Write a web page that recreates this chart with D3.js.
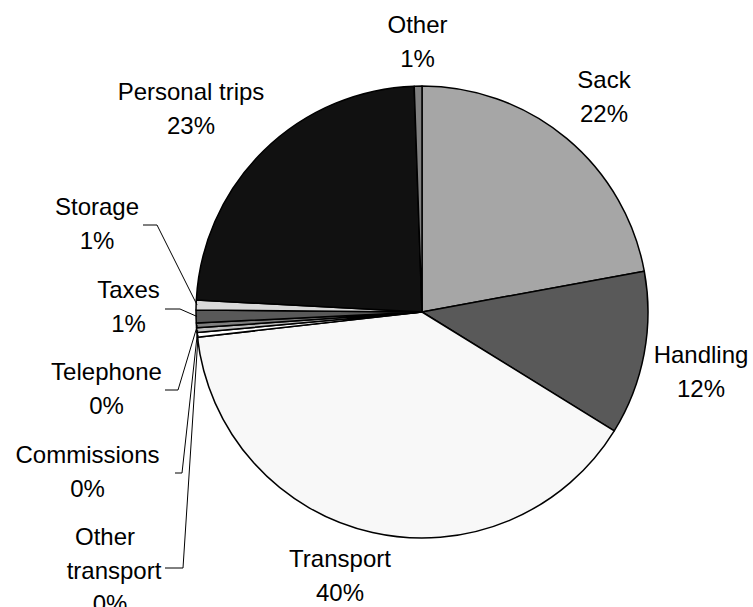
<!DOCTYPE html>
<html>
<head>
<meta charset="utf-8">
<script src="https://cdn.jsdelivr.net/npm/d3@7"></script>
<style>
  html, body { margin: 0; padding: 0; background: #ffffff; }
  svg { display: block; }
  text { font-family: "Liberation Sans", Arial, sans-serif; font-size: 24px; fill: #000; }
</style>
</head>
<body>
<svg id="chart" width="753" height="607"></svg>
<script>
// ---- data ----
const categories = ["Sack", "Handling", "Transport", "Other transport", "Commissions",
                    "Telephone", "Taxes", "Storage", "Personal trips", "Other"];
const shares = [22.1, 11.7, 39.4, 0.33, 0.33, 0.34, 0.92, 0.7, 23.6, 0.55];
const pctLabels = ["22%", "12%", "40%", "0%", "0%", "0%", "1%", "1%", "23%", "1%"];
const labelLines = [["Sack"], ["Handling"], ["Transport"], ["Other", "transport"], ["Commissions"],
                    ["Telephone"], ["Taxes"], ["Storage"], ["Personal trips"], ["Other"]];
const fills = ["#a6a6a6", "#595959", "#f8f8f8", "#ffffff", "#bfbfbf",
               "#7f7f7f", "#595959", "#d9d9d9", "#111111", "#808080"];

// ---- layout ----
const W = 753, H = 607;
const cx = 422, cy = 312, R = 226;
const lineH = 33.5;
// label anchors: x centre, baseline of first line (per line x for multi-line)
const labelLayout = [
  {x: [604], y: 88},
  {x: [701], y: 363},
  {x: [340], y: 567},
  {x: [105, 114, 110], y: 545},
  {x: [87.5], y: 463},
  {x: [106.5], y: 380},
  {x: [128.5], y: 298},
  {x: [97], y: 215},
  {x: [191], y: 100},
  {x: [417.5], y: 33}
];
// leader elbows (null = no leader)
const leaderElbows = [null, null, null,
  [[165, 568], [183, 568]],
  [[175, 473], [182, 473]],
  [[165, 390], [178, 390]],
  [[165, 309], [180, 309]],
  [[143, 225], [157, 225]],
  null, null];

const svg = d3.select("#chart");
const g = svg.append("g").attr("transform", `translate(${cx},${cy})`);

const pie = d3.pie().sort(null).value(d => d);
const arcs = pie(shares);
const arc = d3.arc().innerRadius(0).outerRadius(R);

g.selectAll("path.slice")
  .data(arcs)
  .join("path")
  .attr("class", "slice")
  .attr("d", arc)
  .attr("fill", (d, i) => fills[i])
  .attr("stroke", "#000")
  .attr("stroke-width", 1.5)
  .attr("stroke-linejoin", "round");

// leader lines
const edgeArc = d3.arc().innerRadius(R - 1).outerRadius(R - 1);
arcs.forEach((d, i) => {
  const el = leaderElbows[i];
  if (!el) return;
  const mid = (d.startAngle + d.endAngle) / 2;
  const ex = cx + (R - 1) * Math.sin(mid);
  const ey = cy - (R - 1) * Math.cos(mid);
  const pts = el.concat([[ex, ey]]);
  svg.append("path")
    .attr("d", d3.line()(pts.map((p, k) => k === pts.length - 1 ? p : [el[0][0] === p[0] ? p[0] : p[0], p[1]])))
    .attr("fill", "none")
    .attr("stroke", "#000")
    .attr("stroke-width", 1);
});

// labels
arcs.forEach((d, i) => {
  const lay = labelLayout[i];
  const lines = labelLines[i].concat([pctLabels[i]]);
  const t = svg.append("text").attr("text-anchor", "middle");
  lines.forEach((s, k) => {
    const x = lay.x[Math.min(k, lay.x.length - 1)];
    t.append("tspan").attr("x", x).attr("y", lay.y + k * lineH).text(s);
  });
});
</script>
</body>
</html>
